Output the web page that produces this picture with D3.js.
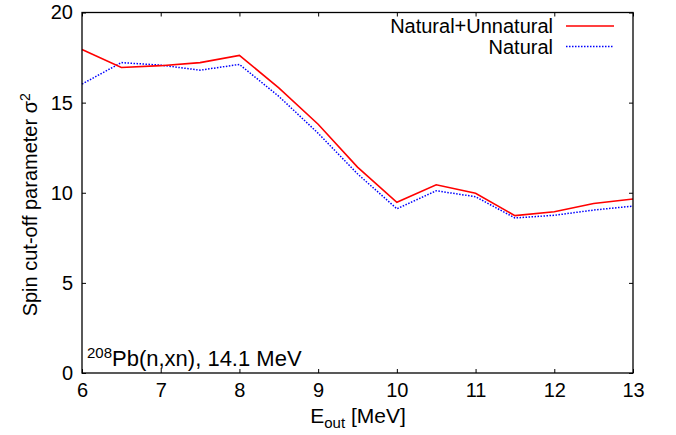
<!DOCTYPE html>
<html>
<head>
<meta charset="utf-8">
<script src="https://cdn.jsdelivr.net/npm/d3@7"></script>
<style>
  html, body { margin: 0; padding: 0; background: #fff; }
  svg text { font-family: "Liberation Sans", Arial, Helvetica, sans-serif; fill: #000; }
</style>
</head>
<body>
<svg id="chart" width="676" height="435"></svg>
<script>
// Outgoing neutron energy grid (MeV)
const energies = [6, 6.5, 7, 7.5, 8, 8.5, 9, 9.5, 10, 10.5, 11, 11.5, 12, 12.5, 13];
// Spin cut-off parameter sigma^2, natural + unnatural parity
const sigmaAll = [17.95, 16.95, 17.05, 17.22, 17.62, 15.82, 13.8, 11.42, 9.47, 10.44, 9.97, 8.73, 8.95, 9.4, 9.65];
// Spin cut-off parameter sigma^2, natural parity only
const sigmaNatural = [16.03, 17.22, 17.08, 16.8, 17.12, 15.35, 13.3, 11.05, 9.11, 10.11, 9.78, 8.6, 8.75, 9.04, 9.26];
const xTicks = [6, 7, 8, 9, 10, 11, 12, 13];
const yTicks = [0, 5, 10, 15, 20];

const margin = { left: 82, right: 43, top: 12.5, bottom: 62 };
const W = 676, H = 435;
const svg = d3.select("#chart");

const x = d3.scaleLinear().domain([6, 13]).range([margin.left, W - margin.right]);
const y = d3.scaleLinear().domain([0, 20]).range([H - margin.bottom, margin.top]);

const fontSize = 20;
const subSize = 14;
const tickLen = 4;
const fmt = d3.format("d");

// Axes: inward ticks on all four sides
svg.append("g").attr("transform", `translate(0,${y(0)})`)
  .call(d3.axisBottom(x).tickValues(xTicks).tickFormat(fmt).tickSizeInner(-tickLen).tickSizeOuter(0).tickPadding(10))
  .call(g => g.select(".domain").remove())
  .call(g => g.selectAll("text").attr("font-size", fontSize).attr("font-family", null));
svg.append("g").attr("transform", `translate(0,${y(20)})`)
  .call(d3.axisTop(x).tickValues(xTicks).tickSizeInner(-tickLen).tickSizeOuter(0).tickFormat(""))
  .call(g => g.select(".domain").remove());
svg.append("g").attr("transform", `translate(${x(6)},0)`)
  .call(d3.axisLeft(y).tickValues(yTicks).tickFormat(fmt).tickSizeInner(-tickLen).tickSizeOuter(0).tickPadding(9))
  .call(g => g.select(".domain").remove())
  .call(g => g.selectAll("text").attr("font-size", fontSize).attr("font-family", null));
svg.append("g").attr("transform", `translate(${x(13)},0)`)
  .call(d3.axisRight(y).tickValues(yTicks).tickSizeInner(-tickLen).tickSizeOuter(0).tickFormat(""))
  .call(g => g.select(".domain").remove());

svg.selectAll(".tick line").attr("stroke", "#000").attr("stroke-width", 1);

// Data lines
const line = d3.line().x((d, i) => x(energies[i])).y(d => y(d));
svg.append("path").datum(sigmaNatural)
  .attr("d", line).attr("fill", "none")
  .attr("stroke", "#0000ff").attr("stroke-width", 1.5).attr("stroke-dasharray", "1.5,1.5");
svg.append("path").datum(sigmaAll)
  .attr("d", line).attr("fill", "none")
  .attr("stroke", "#ff0000").attr("stroke-width", 1.6);

// Plot frame
svg.append("rect")
  .attr("x", x(6)).attr("y", y(20))
  .attr("width", x(13) - x(6)).attr("height", y(0) - y(20))
  .attr("fill", "none").attr("stroke", "#000").attr("stroke-width", 1.3);

// Legend
const legend = [
  { label: "Natural+Unnatural", color: "#ff0000", dash: null, w: 1.6 },
  { label: "Natural", color: "#0000ff", dash: "1.5,1.5", w: 1.5 }
];
legend.forEach((d, i) => {
  const ly = 26 + i * 20.5;
  svg.append("text").attr("x", 553).attr("y", ly + 7).attr("text-anchor", "end")
    .attr("font-size", fontSize).text(d.label);
  svg.append("line").attr("x1", 566).attr("x2", 614).attr("y1", ly).attr("y2", ly)
    .attr("stroke", d.color).attr("stroke-width", d.w).attr("stroke-dasharray", d.dash);
});

// Reaction label
const ann = svg.append("text").attr("x", 87).attr("y", 365.5).attr("font-size", 22);
ann.append("tspan").attr("font-size", 15).attr("dy", -8).text("208");
ann.append("tspan").attr("dy", 8).text("Pb(n,xn), 14.1 MeV");

// Axis titles
const xt = svg.append("text").attr("x", 358).attr("y", 423).attr("text-anchor", "middle").attr("font-size", 21);
xt.append("tspan").text("E");
xt.append("tspan").attr("font-size", 15).attr("dy", 5).text("out");
xt.append("tspan").attr("dy", -5).text(" [MeV]");

const yt = svg.append("text").attr("transform", `translate(37,${(y(0) + y(20)) / 2 + 12}) rotate(-90)`)
  .attr("text-anchor", "middle").attr("font-size", fontSize);
yt.append("tspan").text("Spin cut-off parameter σ");
yt.append("tspan").attr("font-size", subSize).attr("dy", -7).text("2");
</script>
</body>
</html>
